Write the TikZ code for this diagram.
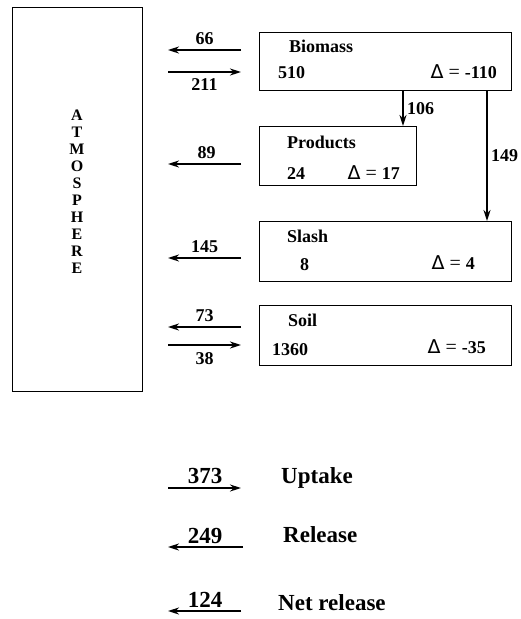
\documentclass[tikz,border=0pt]{standalone}
\usepackage{fontspec}
\setmainfont{Liberation Serif}
\newfontfamily\deltafont{DejaVu Sans}

\usetikzlibrary{arrows.meta,positioning}

\newcommand{\chg}[1]{{\deltafont\mdseries\fontsize{19}{19}\selectfont Δ}\;{\mdseries\fontsize{20}{20}\selectfont =}\;#1}

\begin{document}
\begin{tikzpicture}[x=1pt, y=-1pt, every node/.style={font=\bfseries\fontsize{18}{18}\selectfont, inner sep=0pt},
  box/.style={draw, line width=0.9pt, anchor=north west},
  txt/.style={anchor=west},
  big/.style={font=\bfseries\fontsize{23}{23}\selectfont},
  arr/.style={line width=2pt, -{Stealth[length=11pt, width=7pt]}}]
\useasboundingbox (0,0) rectangle (521,619);
% atmosphere
\node[box, minimum width=130pt, minimum height=384pt] (atm) at (12,7) {};
\node[align=center, font=\bfseries\fontsize{16}{17}\selectfont] (atmt) at (77,192) {A\\T\\M\\O\\S\\P\\H\\E\\R\\E};
% pools
\node[box, minimum width=252pt, minimum height=58pt] (bio) at (259,32) {};
\node[box, minimum width=157pt, minimum height=59pt] (prd) at (259,126) {};
\node[box, minimum width=252pt, minimum height=60pt] (sla) at (259,221) {};
\node[box, minimum width=252pt, minimum height=60pt] (soi) at (259,305) {};
\node[txt] (biot) at (289,46) {Biomass};
\node[txt] (biov) at (278,73) {510};
\node[anchor=east] (biod) at (497,72) {\chg{-110}};
\node[txt] (prdt) at (287,142) {Products};
\node[txt] (prdv) at (287,174) {24};
\node[anchor=east] (prdd) at (400,173) {\chg{17}};
\node[txt] (slat) at (287,236) {Slash};
\node[txt] (slav) at (300,265) {8};
\node[anchor=east] (slad) at (475,263) {\chg{4}};
\node[txt] (soit) at (288,320) {Soil};
\node[txt] (soiv) at (272,350) {1360};
\node[anchor=east] (soid) at (486,347) {\chg{-35}};
% fluxes to and from the atmosphere
\coordinate (bo1) at (241,50); \coordinate (ai1) at (168,50);
\coordinate (bi1) at (241,72); \coordinate (ao1) at (168,72);
\coordinate (po1) at (241,164); \coordinate (ai2) at (168,164);
\coordinate (so1) at (241,258); \coordinate (ai3) at (168,258);
\coordinate (lo1) at (241,327); \coordinate (ai4) at (168,327);
\coordinate (li1) at (241,345); \coordinate (ao2) at (168,345);
\draw[arr] (bo1) -- (ai1) node[midway, above=4pt] (f66) {66};
\draw[arr] (ao1) -- (bi1) node[midway, below=6pt] (f211) {211};
\draw[arr] (po1) -- (ai2) node[midway, above=4pt, xshift=2pt] (f89) {89};
\draw[arr] (so1) -- (ai3) node[midway, above=4pt] (f145) {145};
\draw[arr] (lo1) -- (ai4) node[midway, above=4pt] (f73) {73};
\draw[arr] (ao2) -- (li1) node[midway, below=7pt] (f38) {38};
% transfers between pools
\coordinate (x106) at (403,0); \coordinate (x149) at (487,0);
\draw[arr] (x106 |- bio.south) -- (x106 |- prd.north) node[midway, right=3pt] (f106) {106};
\draw[arr] (x149 |- bio.south) -- (x149 |- sla.north) node[pos=0.5, right=3pt] (f149) {149};
% totals
\coordinate (u1) at (168,488); \coordinate (u2) at (241,488);
\coordinate (r1) at (243,547); \coordinate (r2) at (168,547);
\coordinate (n1) at (241,611); \coordinate (n2) at (168,611);
\draw[arr, line width=1.4pt] (u1) -- (u2);
\draw[arr] (r1) -- (r2);
\draw[arr] (n1) -- (n2);
\node[big, anchor=base] (t373) at (205,483) {373};
\node[big, anchor=base] (t249) at (205,543) {249};
\node[big, anchor=base] (t124) at (205,607) {124};
\node[big, anchor=base west] (upt) at (281,483) {Uptake};
\node[big, anchor=base west] (rel) at (283,542) {Release};
\node[big, anchor=base west] (net) at (278,610) {Net release};
\end{tikzpicture}
\end{document}
